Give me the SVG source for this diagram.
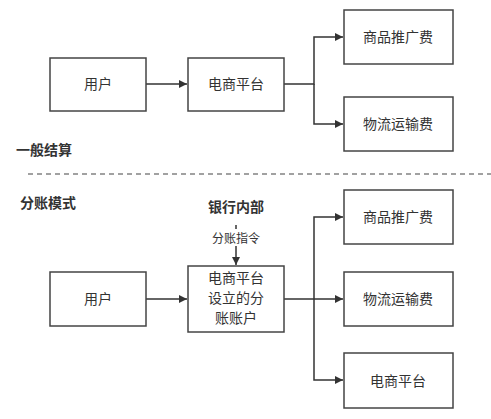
<svg xmlns="http://www.w3.org/2000/svg" width="491" height="419" viewBox="0 0 491 419">
<style>
.box{fill:#fff;stroke:#444;stroke-width:1.5}
.t{font-family:"Noto Sans CJK SC","Noto Sans",sans-serif;font-size:14px;fill:#333;text-anchor:middle}
.h{font-family:"Noto Sans CJK SC","Noto Sans",sans-serif;font-size:14px;font-weight:bold;fill:#333}
.c{fill:none;stroke:#333;stroke-width:1.5}
</style>
<defs>
<marker id="a" viewBox="0 0 10 10" refX="10" refY="5" markerWidth="9" markerHeight="8" markerUnits="userSpaceOnUse" orient="auto"><path d="M0,0 L10,5 L0,10 Z" fill="#333"/></marker>
</defs>
<rect width="491" height="419" fill="#fff"/>
<g id="connectors">
<path class="c" d="M146,84 H187" marker-end="url(#a)"/>
<path class="c" d="M284,84 H314 V37 H343" marker-end="url(#a)"/>
<path class="c" d="M314,84 V124 H343" marker-end="url(#a)"/>
<path class="c" d="M146,299 H187" marker-end="url(#a)"/>
<path class="c" d="M284,299 H343" marker-end="url(#a)"/>
<path class="c" d="M314,299 V217 H343" marker-end="url(#a)"/>
<path class="c" d="M314,299 V380 H343" marker-end="url(#a)"/>
<path class="c" d="M236,225 V265" marker-end="url(#a)"/>
</g>
<line x1="28" y1="174" x2="491" y2="174" stroke="#444" stroke-width="1.2" stroke-dasharray="5,4"/>
<text class="h" x="16" y="155">一般结算</text>
<text class="h" x="20" y="208">分账模式</text>
<text class="h" x="236" y="212" text-anchor="middle">银行内部</text>
<g id="n1"><rect class="box" x="50" y="58" width="96" height="53"/><text class="t" x="98" y="89">用户</text></g>
<g id="n2"><rect class="box" x="188" y="58" width="96" height="53"/><text class="t" x="236" y="89">电商平台</text></g>
<g id="n3"><rect class="box" x="344" y="10" width="109" height="54"/><text class="t" x="398" y="42">商品推广费</text></g>
<g id="n4"><rect class="box" x="344" y="97" width="109" height="54"/><text class="t" x="398" y="129">物流运输费</text></g>
<g id="lbl"><rect x="207" y="229" width="58" height="17" fill="#fff"/><text class="t" x="236" y="243" style="font-size:12px">分账指令</text></g>
<g id="n5"><rect class="box" x="50" y="272" width="96" height="54"/><text class="t" x="98" y="304">用户</text></g>
<g id="n6"><rect class="box" x="188" y="266" width="96" height="66"/><text class="t" x="236" y="283">电商平台</text><text class="t" x="236" y="303">设立的分</text><text class="t" x="236" y="323">账账户</text></g>
<g id="n7"><rect class="box" x="344" y="190" width="109" height="54"/><text class="t" x="398" y="222">商品推广费</text></g>
<g id="n8"><rect class="box" x="344" y="272" width="109" height="54"/><text class="t" x="398" y="304">物流运输费</text></g>
<g id="n9"><rect class="box" x="344" y="353" width="109" height="55"/><text class="t" x="398" y="386">电商平台</text></g>
</svg>
